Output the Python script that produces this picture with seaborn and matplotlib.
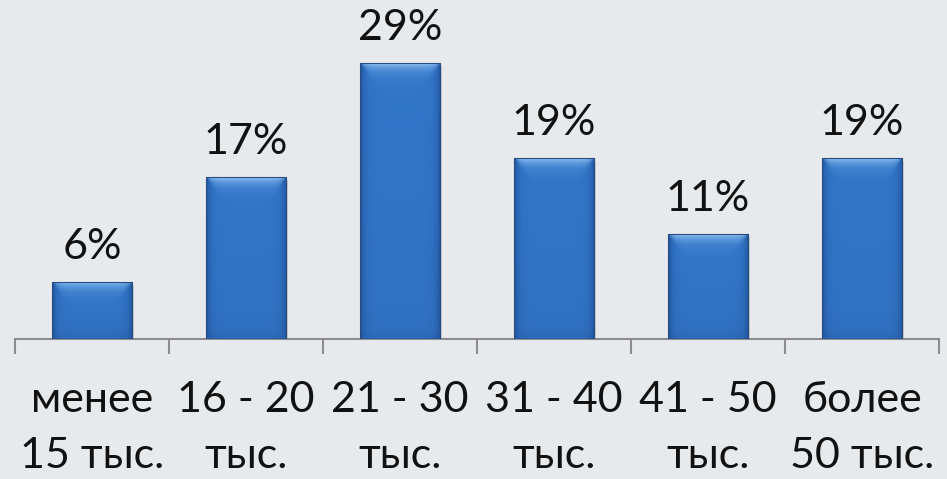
import numpy as np
import matplotlib
matplotlib.use("Agg")
import matplotlib.pyplot as plt
import matplotlib.transforms as mtransforms
from matplotlib.patches import Rectangle
from matplotlib.colors import to_rgb
import pandas as pd
import seaborn as sns

# Salary bands and the share of respondents in each
categories = ["менее\n15 тыс.", "16 - 20\nтыс.", "21 - 30\nтыс.",
              "31 - 40\nтыс.", "41 - 50\nтыс.", "более\n50 тыс."]
shares = [6, 17, 29, 19, 11, 19]
value_labels = ["6%", "17%", "29%", "19%", "11%", "19%"]

sns.set_theme(style="white")
plt.rcParams["font.family"] = ["Lato", "DejaVu Sans"]

BG = "#E7EAED"
W, H = 947, 479
fig = plt.figure(figsize=(W / 100, H / 100), dpi=100, facecolor=BG)
ax = fig.add_axes([15 / W, 140 / H, 924 / W, 331 / H])
ax.set_facecolor(BG)

df = pd.DataFrame({"band": categories, "share": shares})
sns.barplot(data=df, x="band", y="share", width=0.52, color="#2F6FC2",
            edgecolor="#284B80", linewidth=0.8, ax=ax, zorder=3)
ax.set_xlim(-0.5, len(categories) - 0.5)
ax.set_ylim(0, 34.8)


def bevel_image(wpx, hpx):
    """Glossy blue fill: darker side rims, light bevel along the top."""
    base = np.array(to_rgb("#3276C9"))
    rim = np.array(to_rgb("#1E4C92"))
    light = np.array(to_rgb("#9ACBF8"))
    bottom = np.array(to_rgb("#2A60AA"))
    xs = np.arange(wpx)[None, :]
    ys = np.arange(hpx)[:, None]
    d_side = np.minimum(xs, wpx - 1 - xs).astype(float)
    d_top = ys.astype(float)
    d_bot = (hpx - 1 - ys).astype(float)
    side = np.exp(-d_side / 3.5)
    top = np.exp(-d_top / 6.0) * (1 - np.exp(-np.maximum(d_side - d_top * 0.6, 0) / 3.0))
    bot = np.exp(-d_bot / 6.0) * 0.6
    # gentle vertical shading towards the base of the bar
    vert = 0.25 * (ys / max(hpx - 1, 1))
    img = np.ones((hpx, wpx, 3)) * base
    img = img * (1 - vert[..., None]) + bottom * vert[..., None]
    img = img * (1 - bot[..., None]) + bottom * bot[..., None]
    img = img * (1 - side[..., None] * 0.85) + rim * (side[..., None] * 0.85)
    img = img * (1 - top[..., None] * 0.9) + light * (top[..., None] * 0.9)
    return np.clip(img, 0, 1)


shadow_tf = mtransforms.offset_copy(ax.transData, fig=fig, x=2, y=-3, units="dots")
for patch in list(ax.patches):
    x0, y0 = patch.get_x(), patch.get_y()
    w, h = patch.get_width(), patch.get_height()
    (px0, py0), (px1, py1) = ax.transData.transform([(x0, y0), (x0 + w, y0 + h)])
    wpx, hpx = max(int(round(px1 - px0)), 2), max(int(round(py1 - py0)), 2)
    ax.add_patch(Rectangle((x0, y0), w, h, transform=shadow_tf, facecolor="#8A8F96",
                           alpha=0.35, edgecolor="none", zorder=2))
    im = ax.imshow(bevel_image(wpx, hpx), extent=(x0, x0 + w, y0, y0 + h),
                   aspect="auto", origin="upper", zorder=3.5, interpolation="bilinear")
    im.set_clip_path(patch)
    patch.set_zorder(4)
    patch.set_facecolor("none")

for i, (v, lab) in enumerate(zip(shares, value_labels)):
    ax.annotate(lab, (i, v), xytext=(0, 23), textcoords="offset pixels",
                ha="center", va="baseline", fontsize=31, color="#111111")

for s in ["top", "right", "left"]:
    ax.spines[s].set_visible(False)
ax.spines["bottom"].set_color("#8C8C8C")
ax.spines["bottom"].set_linewidth(1.5)
ax.spines["bottom"].set_zorder(1)

ax.set_yticks([])
ax.set_xticks(range(len(categories)))
ax.set_xticklabels(categories, fontsize=31, linespacing=1.6, color="#111111")
ax.tick_params(axis="x", which="major", length=0, pad=30)
ax.set_xticks(np.arange(-0.5, len(categories)), minor=True)
ax.tick_params(axis="x", which="minor", length=11, width=1.5, color="#8C8C8C",
               direction="out", bottom=True)
ax.set_xlabel("")
ax.set_ylabel("")

fig.savefig("out.png", dpi=100, facecolor=BG)
